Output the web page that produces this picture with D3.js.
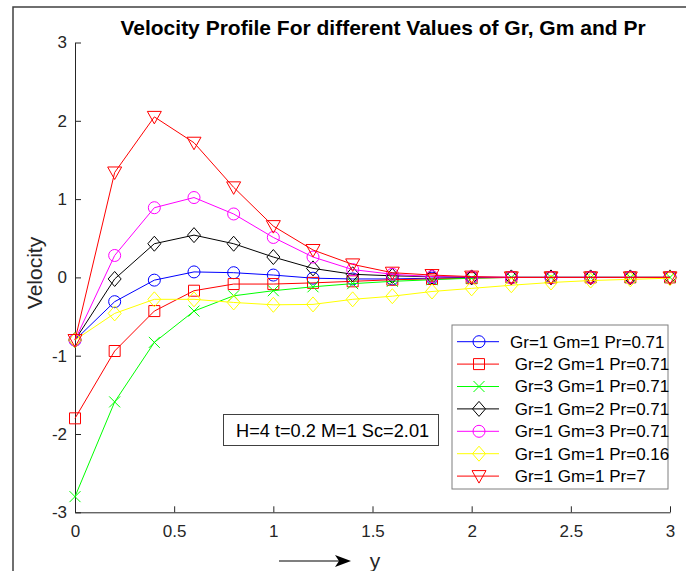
<!DOCTYPE html>
<html>
<head>
<meta charset="utf-8">
<script src="https://cdn.jsdelivr.net/npm/d3@7"></script>
<style>
  body { margin: 0; background: #fff; }
  svg { display: block; font-family: "Liberation Sans", Arial, sans-serif; }
  .legend text, .note text { white-space: pre; }
</style>
</head>
<body>
<svg id="chart" width="686" height="571"></svg>
<script>
// y positions along the plate
const yPoints = [0, 0.2, 0.4, 0.6, 0.8, 1.0, 1.2, 1.4, 1.6, 1.8, 2.0, 2.2, 2.4, 2.6, 2.8, 3.0];

// velocity values
const velGr1Gm1Pr071 = [-0.80, -0.31, -0.035, 0.07, 0.06, 0.03, -0.01, -0.02, -0.02, -0.01, 0, 0, 0, 0, 0, 0];
const velGr2Gm1Pr071 = [-1.80, -0.94, -0.43, -0.17, -0.085, -0.085, -0.07, -0.05, -0.03, -0.02, -0.01, 0, 0, 0, 0, 0];
const velGr3Gm1Pr071 = [-2.80, -1.59, -0.83, -0.43, -0.235, -0.17, -0.12, -0.08, -0.05, -0.03, -0.01, 0, 0, 0, 0, 0];
const velGr1Gm2Pr071 = [-0.80, -0.02, 0.43, 0.54, 0.43, 0.26, 0.115, 0.04, 0.02, 0.01, 0, 0, 0, 0, 0, 0];
const velGr1Gm3Pr071 = [-0.80, 0.28, 0.89, 1.02, 0.81, 0.51, 0.26, 0.10, 0.04, 0.01, 0.005, 0, 0, 0, 0, 0];
const velGr1Gm1Pr016 = [-0.80, -0.46, -0.28, -0.28, -0.32, -0.35, -0.345, -0.28, -0.24, -0.18, -0.14, -0.10, -0.065, -0.04, -0.025, -0.01];
const velGr1Gm1Pr7   = [-0.80, 1.34, 2.05, 1.72, 1.15, 0.655, 0.35, 0.166, 0.06, 0.03, 0.01, 0, 0, 0, 0, 0];

const seriesLabels = ["Gr=1 Gm=1 Pr=0.71", " Gr=2 Gm=1 Pr=0.71", " Gr=3 Gm=1 Pr=0.71", " Gr=1 Gm=2 Pr=0.71",
                      " Gr=1 Gm=3 Pr=0.71", " Gr=1 Gm=1 Pr=0.16", " Gr=1 Gm=1 Pr=7"];
const seriesColors = ["#0000ff", "#ff0000", "#00ff00", "#000000", "#ff00ff", "#ffff00", "#ff0000"];
const seriesMarkers = ["circle", "square", "cross", "diamond", "circle", "diamond", "triangle"];
const seriesValues = [velGr1Gm1Pr071, velGr2Gm1Pr071, velGr3Gm1Pr071, velGr1Gm2Pr071,
                      velGr1Gm3Pr071, velGr1Gm1Pr016, velGr1Gm1Pr7];

const xTicks = [0, 0.5, 1, 1.5, 2, 2.5, 3];
const yTicks = [-3, -2, -1, 0, 1, 2, 3];

const svg = d3.select("#chart");
const axisColor = "#262626";

// plot area
const plotLeft = 75, plotRight = 670, plotTop = 42.5, plotBottom = 512.3;
const x = d3.scaleLinear().domain([0, 3]).range([plotLeft, plotRight]);
const y = d3.scaleLinear().domain([-3, 3]).range([plotBottom, plotTop]);

// outer figure frame (only left and top edges visible)
svg.append("path")
    .attr("d", "M13,571V7H686")
    .attr("fill", "none")
    .attr("stroke", "#404040")
    .attr("stroke-width", 1.5);

// axes
const xAxis = svg.append("g")
    .attr("transform", `translate(0,${plotBottom})`)
    .call(d3.axisBottom(x).tickValues(xTicks).tickFormat(d3.format("")).tickSize(-6).tickSizeOuter(0).tickPadding(13));
const yAxis = svg.append("g")
    .attr("transform", `translate(${plotLeft},0)`)
    .call(d3.axisLeft(y).tickValues(yTicks).tickFormat(d3.format("")).tickSize(-6).tickSizeOuter(0).tickPadding(8));

[xAxis, yAxis].forEach(g => {
    g.select(".domain").attr("stroke", axisColor);
    g.selectAll(".tick line").attr("stroke", axisColor);
    g.selectAll(".tick text").attr("fill", axisColor).style("font-size", "17px")
        .style("font-family", "'Liberation Sans', Arial, sans-serif");
});
yAxis.selectAll(".tick text").text(d => d < 0 ? "-" + Math.abs(d) : d);

// marker shapes
function markerPath(type) {
    if (type === "square") return "M-5.5,-5.5H5.5V5.5H-5.5Z";
    if (type === "cross") return "M-5.5,-5.5L5.5,5.5M-5.5,5.5L5.5,-5.5";
    if (type === "diamond") return "M0,-7.5L6.5,0L0,7.5L-6.5,0Z";
    if (type === "triangle") return "M-7,-5.5H7L0,7Z";
    return "M6,0A6,6 0 1,1 -6,0A6,6 0 1,1 6,0Z";
}

const line = d3.line()
    .x((d, i) => x(yPoints[i]))
    .y(d => y(d));

const series = svg.append("g").selectAll("g")
    .data(seriesValues)
    .enter().append("g");

series.append("path")
    .attr("d", d => line(d))
    .attr("fill", "none")
    .attr("stroke", (d, i) => seriesColors[i])
    .attr("stroke-width", 1);

series.each(function(vals, si) {
    d3.select(this).selectAll("path.marker")
        .data(vals)
        .enter().append("path")
        .attr("class", "marker")
        .attr("transform", (d, i) => `translate(${x(yPoints[i])},${y(d)})`)
        .attr("d", markerPath(seriesMarkers[si]))
        .attr("fill", "none")
        .attr("stroke", seriesColors[si])
        .attr("stroke-width", 1);
});

// title
svg.append("text")
    .attr("x", 383)
    .attr("y", 35)
    .attr("text-anchor", "middle")
    .style("font-size", "21px")
    .style("font-weight", "bold")
    .attr("fill", "#000")
    .text("Velocity Profile For different Values of Gr, Gm and Pr");

// y label
svg.append("text")
    .attr("transform", "translate(42,273) rotate(-90)")
    .attr("text-anchor", "middle")
    .style("font-size", "21px")
    .attr("fill", axisColor)
    .text("Velocity");

// x label with arrow
svg.append("line")
    .attr("x1", 279).attr("x2", 340)
    .attr("y1", 561).attr("y2", 561)
    .attr("stroke", "#000").attr("stroke-width", 1.2);
svg.append("path")
    .attr("d", "M351,561L335,555L339,561L335,567Z")
    .attr("fill", "#000");
svg.append("text")
    .attr("x", 375)
    .attr("y", 568)
    .attr("text-anchor", "middle")
    .style("font-size", "21px")
    .attr("fill", axisColor)
    .text("y");

// parameter note
const note = svg.append("g").attr("class", "note");
note.append("rect")
    .attr("x", 223.5).attr("y", 414.5)
    .attr("width", 215).attr("height", 31)
    .attr("fill", "#fff")
    .attr("stroke", "#404040");
note.append("text")
    .attr("x", 236)
    .attr("y", 436.5)
    .style("font-size", "18.2px")
    .attr("fill", "#000")
    .text("H=4 t=0.2 M=1 Sc=2.01");

// legend
const legend = svg.append("g").attr("class", "legend");
legend.append("rect")
    .attr("x", 452).attr("y", 325)
    .attr("width", 216).attr("height", 164)
    .attr("fill", "#fff")
    .attr("stroke", "#7f7f7f");

const entry = legend.selectAll("g.entry")
    .data(seriesLabels)
    .enter().append("g")
    .attr("class", "entry")
    .attr("transform", (d, i) => `translate(0,${341.7 + i * 22.4})`);

entry.append("line")
    .attr("x1", 457).attr("x2", 499)
    .attr("stroke", (d, i) => seriesColors[i]);
entry.append("path")
    .attr("transform", "translate(479,0)")
    .attr("d", (d, i) => markerPath(seriesMarkers[i]))
    .attr("fill", "none")
    .attr("stroke", (d, i) => seriesColors[i]);
entry.append("text")
    .attr("x", 510)
    .attr("dy", "0.35em")
    .style("font-size", "17px")
    .attr("fill", "#000")
    .text(d => d);
</script>
</body>
</html>
